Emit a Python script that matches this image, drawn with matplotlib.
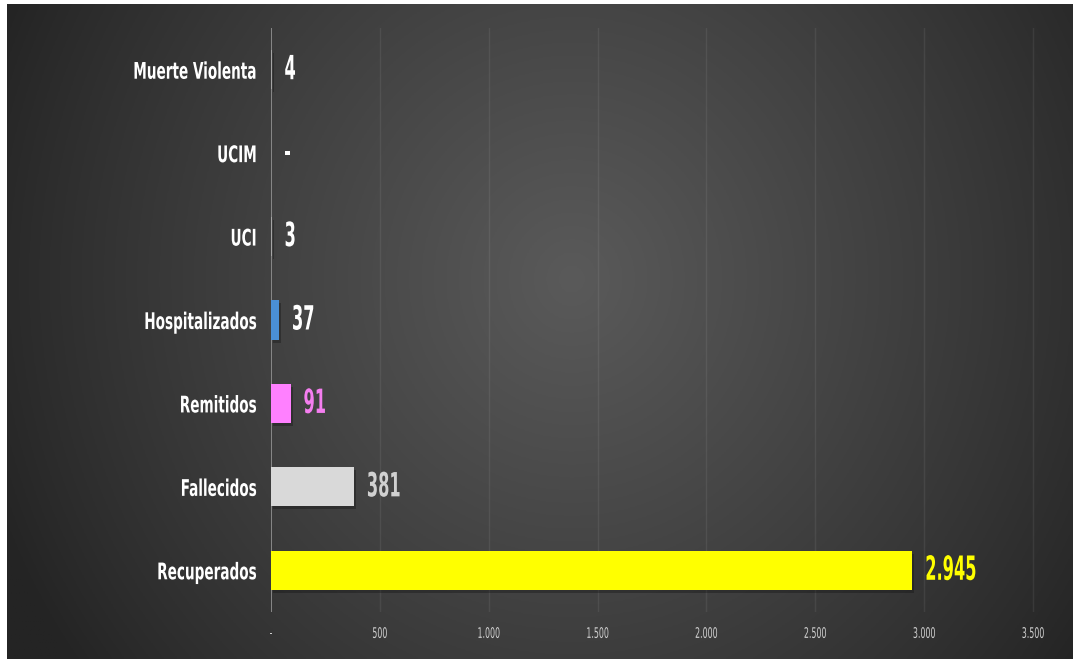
import numpy as np
import matplotlib
matplotlib.use("Agg")
import matplotlib.pyplot as plt
from matplotlib.patheffects import AbstractPathEffect
from matplotlib.transforms import Affine2D

categories = ["Recuperados", "Fallecidos", "Remitidos", "Hospitalizados", "UCI", "UCIM", "Muerte Violenta"]
values = [2945, 381, 91, 37, 3, 0, 4]
value_labels = ["2.945", "381", "91", "37", "3", "-", "4"]
bar_colors = ["#FFFF00", "#D9D9D9", "#FF80FF", "#4A8FD6", "#A5A5A5", "#A5A5A5", "#A5A5A5"]
label_colors = ["#FFFF00", "#D0D0D0", "#F57EF0", "#FFFFFF", "#FFFFFF", "#FFFFFF", "#FFFFFF"]
xticks = [0, 500, 1000, 1500, 2000, 2500, 3000, 3500]
xtick_labels = ["-", "500", "1.000", "1.500", "2.000", "2.500", "3.000", "3.500"]

plt.rcParams['font.family'] = ["DejaVu Sans"]
plt.rcParams['font.stretch'] = "condensed"


class Squeeze(AbstractPathEffect):
    """Narrow the glyphs horizontally (like a condensed face), keeping the anchor edge."""
    def __init__(self, sx, sy=1.0, anchor="left"):
        super().__init__()
        self.sx, self.sy, self.anchor = sx, sy, anchor

    def draw_path(self, renderer, gc, tpath, affine, rgbFace=None):
        ext = tpath.get_extents()
        if self.anchor == "right":
            axp = ext.x1
        elif self.anchor == "center":
            axp = (ext.x0 + ext.x1) / 2
        else:
            axp = ext.x0
        ayp = (ext.y0 + ext.y1) / 2
        t = Affine2D().translate(-axp, -ayp).scale(self.sx, self.sy).translate(axp, ayp)
        renderer.draw_path(gc, tpath, t + affine, rgbFace)


W, H = 1073, 659
fig = plt.figure(figsize=(W / 100, H / 100), dpi=100)
fig.patch.set_facecolor("white")

# background gradient panel
bg = fig.add_axes([7 / W, 0, 1 - 7 / W, 1 - 4 / H])
bg.set_axis_off()
nx, ny = 400, 250
xx, yy = np.meshgrid(np.linspace(0, 1, nx), np.linspace(0, 1, ny))
r = np.sqrt(((xx - 0.53) / 0.58) ** 2 + ((yy - 0.42) / 1.0) ** 2)
t = np.clip(1 - r, 0, 1) ** 0.9
val = (36 + (90 - 36) * t) / 255.0
img = np.dstack([val, val, val])
bg.imshow(img, aspect="auto", extent=[0, 1, 0, 1], origin="upper")
bg.set_xlim(0, 1)
bg.set_ylim(0, 1)

# main axes
scale = 762 / 3500.0
xmax = 3650
left_px, top_px, bot_px = 271, 28, 612
ax = fig.add_axes([left_px / W, (H - bot_px) / H, xmax * scale / W, (bot_px - top_px) / H])
ax.set_facecolor("none")
ax.set_xlim(0, xmax)
ax.set_ylim(-0.5, len(categories) - 0.5)

y = np.arange(len(categories))
# shadows
ax.barh(y - 0.035, values, height=0.47, left=2 / scale, color="#111111", alpha=0.35, zorder=2)
ax.barh(y, values, height=0.47, color=bar_colors, zorder=3)

for i, (v, lab, c) in enumerate(zip(values, value_labels, label_colors)):
    ax.text(v + 12 / scale, i, lab, color=c, fontsize=24, fontweight="bold",
            va="center", ha="left", zorder=4,
            path_effects=[Squeeze(0.54, 1.0, "left")])

ax.set_yticks(y)
ax.set_yticklabels(categories, color="white", fontsize=16.5, fontweight="bold")
ax.tick_params(axis="y", length=0, pad=10)
for lbl in ax.get_yticklabels():
    lbl.set_path_effects([Squeeze(0.66, 1.0, "right")])

ax.set_xticks(xticks)
ax.set_xticklabels(xtick_labels, color="#CFCFCF", fontsize=10.5)
ax.tick_params(axis="x", length=0, pad=10)
for lbl in ax.get_xticklabels():
    lbl.set_path_effects([Squeeze(0.6, 1.0, "center")])

for xt in xticks[1:]:
    ax.axvline(xt, color="#FFFFFF", alpha=0.07, lw=1, zorder=1)
ax.axvline(0, color="#8E8E8E", lw=1.3, zorder=1)

for s in ax.spines.values():
    s.set_visible(False)

fig.savefig("out.png", dpi=100, facecolor=fig.get_facecolor())
